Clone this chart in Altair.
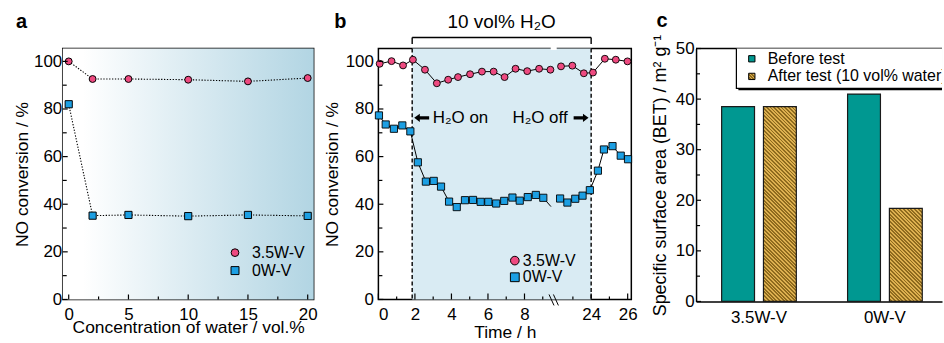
import math
import altair as alt
import pandas as pd

FONT = "Liberation Sans"
PINK = "#ee4a80"
BLUE = "#1c9fe3"
TEAL = "#009891"
SHADE = "#d9ebf3"
HATCH_LIGHT = "#ddb050"
HATCH_DARK = "#8f6b1e"

# ---------------- data ----------------
a_water = [0, 2, 5, 10, 15, 20]
a_conv_35w = [100.0, 92.6, 92.6, 92.3, 91.6, 93.0]
a_conv_0w = [82.0, 35.2, 35.5, 35.0, 35.5, 35.1]

b_time_35w = [0.07, 0.72, 1.35, 1.89, 2.55, 3.20, 3.82, 4.36, 5.02, 5.67, 6.31, 6.91, 7.51, 8.15, 8.80, 9.42,
              22.35, 22.97, 23.60, 24.10, 24.75, 25.35, 25.99]
b_conv_35w = [99.0, 100.1, 98.3, 100.7, 96.5, 90.8, 92.3, 93.4, 94.6, 95.7, 95.7, 93.4, 96.9, 95.9, 96.9, 96.5,
              97.9, 98.2, 95.0, 95.3, 101.1, 100.7, 100.0]
b_time_0w = [0.03, 0.40, 0.85, 1.31, 1.75, 2.16, 2.60, 3.03, 3.43, 3.87, 4.29, 4.74, 5.18, 5.60, 6.02, 6.45,
             6.89, 7.34, 7.74, 8.18, 8.62, 9.03,
             22.30, 22.70, 23.13, 23.53, 23.93, 24.37, 24.70, 25.17, 25.62, 26.02]
b_conv_0w = [77.3, 73.5, 71.7, 73.1, 70.6, 57.6, 49.5, 49.8, 47.4, 41.1, 38.8, 41.7, 41.8, 41.0, 41.0, 40.3,
             41.4, 42.8, 41.5, 43.0, 43.9, 42.7,
             42.4, 40.7, 42.3, 43.6, 45.9, 54.1, 63.0, 64.4, 60.4, 58.9]
b_tail_time = [9.03, 9.45]
b_tail_conv = [42.7, 39.0]
b_water_on = 1.85
b_water_off = 24.0

c_samples = ["3.5W-V", "0W-V"]
c_series = ["Before", "After"]
c_before = [38.5, 41.0]
c_after = [38.5, 18.4]

# tick values
a_xticks = [0, 2.5, 5, 7.5, 10, 12.5, 15, 17.5, 20]
a_xlabels = [0, 5, 10, 15, 20]
a_yticks = [0, 10, 20, 30, 40, 50, 60, 70, 80, 90, 100]
a_ylabels = [0, 20, 40, 60, 80, 100]
b_xticks_h = [0, 1, 2, 3, 4, 5, 6, 7, 8, 9, 23, 24, 25, 26]
b_xlabels_h = [0, 2, 4, 6, 8, 24, 26]
c_yticks = [0, 5, 10, 15, 20, 25, 30, 35, 40, 45, 50]
c_ylabels = [0, 10, 20, 30, 40, 50]

# ---------------- layout constants ----------------
W_A, H_A = 252, 252
W_B, H_B = 254, 252
W_C, H_C = 247, 254
SHIFT = 12.35      # hours removed by the axis break
BREAK_POS = 9.6    # plot position of the break


def b_pos(t):
    return t - SHIFT if t > 15 else t


one = pd.DataFrame({"k": [0]})


def tick_layers(values, majors, orient, scale, axis, plot_h, major_len, minor_len):
    layers = []
    for is_major, L in ((True, major_len), (False, minor_len)):
        vals = [v for v in values if (v in majors) == is_major]
        df = pd.DataFrame({"v": vals})
        base = alt.Chart(df).mark_rule(color="black", strokeWidth=1.2)
        if orient == "left":
            ch = base.encode(y=alt.Y("v:Q", scale=scale, axis=axis), x=alt.value(0), x2=alt.value(L))
        else:
            ch = base.encode(x=alt.X("v:Q", scale=scale, axis=axis), y=alt.value(plot_h), y2=alt.value(plot_h - L))
        layers.append(ch)
    return layers


def letter(ch, x, y):
    return alt.Chart(one).mark_text(text=ch, font=FONT, fontSize=20, fontWeight="bold", align="left",
                                    baseline="alphabetic", color="black").encode(x=alt.value(x), y=alt.value(y))


def legend_layers(items, x_mark, x_text):
    layers = []
    for label, shape, color, y, size in items:
        layers.append(alt.Chart(one).mark_point(shape=shape, filled=True, fill=color, stroke="black",
                                                strokeWidth=1, opacity=1, size=size)
                      .encode(x=alt.value(x_mark), y=alt.value(y)))
        layers.append(alt.Chart(one).mark_text(text=label, font=FONT, fontSize=16, align="left",
                                               baseline="middle", color="black")
                      .encode(x=alt.value(x_text), y=alt.value(y)))
    return layers


# ---------------- panel a ----------------
a_df = pd.DataFrame({"water": a_water * 2, "conv": a_conv_35w + a_conv_0w,
                     "sample": ["3.5W-V"] * len(a_water) + ["0W-V"] * len(a_water)})
ax_scale = alt.Scale(domain=[-0.5, 20.5], nice=False, zero=False)
ay_scale = alt.Scale(domain=[0, 105.4], nice=False)
ax_axis = alt.Axis(values=a_xlabels, title="Concentration of water / vol.%", labelPadding=7.5,
                   titleY=33.2, titleBaseline="alphabetic")
ay_axis = alt.Axis(values=a_ylabels, title="NO conversion / %", labelPadding=1,
                   titleX=-35.5, titleBaseline="alphabetic")

a_grad = {"gradient": "linear", "x1": 0, "y1": 0, "x2": 1, "y2": 0,
          "stops": [{"offset": 0, "color": "#ffffff"}, {"offset": 0.08, "color": "#ffffff"},
                    {"offset": 1, "color": "#b2d5e3"}]}
a_bg = alt.Chart(one).mark_rect(fill=a_grad).encode(
    x=alt.value(0), x2=alt.value(W_A), y=alt.value(0), y2=alt.value(H_A))

a_lines = alt.Chart(a_df).mark_line(color="black", strokeWidth=1.1, strokeDash=[1.3, 1.6]).encode(
    x=alt.X("water:Q", scale=ax_scale, axis=ax_axis),
    y=alt.Y("conv:Q", scale=ay_scale, axis=ay_axis),
    detail="sample:N")

a_pts = alt.Chart(a_df).mark_point(filled=True, stroke="black", strokeWidth=1, opacity=1).encode(
    x=alt.X("water:Q", scale=ax_scale, axis=ax_axis),
    y=alt.Y("conv:Q", scale=ay_scale, axis=ay_axis),
    shape=alt.Shape("sample:N", scale=alt.Scale(domain=["3.5W-V", "0W-V"], range=["circle", "square"]), legend=None),
    fill=alt.Fill("sample:N", scale=alt.Scale(domain=["3.5W-V", "0W-V"], range=[PINK, BLUE]), legend=None),
    size=alt.Size("sample:N", scale=alt.Scale(domain=["3.5W-V", "0W-V"], range=[48, 52]), legend=None))

a_layers = [a_bg, a_lines, a_pts]
a_layers += tick_layers(a_xticks, a_xlabels, "bottom", ax_scale, ax_axis, H_A, 5, 3)
a_layers += tick_layers(a_yticks, a_ylabels, "left", ay_scale, ay_axis, H_A, 5, 4)
a_layers += legend_layers([("3.5W-V", "circle", PINK, 205, 60), ("0W-V", "square", BLUE, 223, 64)], 173, 190)
a_layers.append(letter("a", -47, -21))
panel_a = alt.layer(*a_layers).properties(width=W_A, height=H_A)

# ---------------- panel b ----------------
b_df = pd.DataFrame({
    "pos": [b_pos(t) for t in b_time_35w] + [b_pos(t) for t in b_time_0w],
    "conv": b_conv_35w + b_conv_0w,
    "sample": ["3.5W-V"] * len(b_time_35w) + ["0W-V"] * len(b_time_0w),
    "seg": ["pre" if t < 15 else "post" for t in b_time_35w] + ["pre" if t < 15 else "post" for t in b_time_0w],
})
b_tail = pd.DataFrame({"pos": [b_pos(t) for t in b_tail_time], "conv": b_tail_conv})
bx_scale = alt.Scale(domain=[0, 13.85], nice=False, zero=False)
by_scale = alt.Scale(domain=[0, 105.4], nice=False)
p_on, p_off = b_pos(b_water_on), b_pos(b_water_off)
label_expr = "datum.value > 10 ? format(datum.value + %s, 'd') : format(datum.value, 'd')" % SHIFT
bx_axis = alt.Axis(values=[b_pos(t) for t in b_xlabels_h], labelExpr=label_expr, title="Time / h",
                   labelPadding=7.5, titleY=38.5, titleBaseline="alphabetic")
by_axis = alt.Axis(values=a_ylabels, title="NO conversion / %", labelPadding=5,
                   titleX=-41, titleBaseline="alphabetic")


def bx(d):
    return alt.X(datum=d, scale=bx_scale, axis=bx_axis)


def by(d):
    return alt.Y(datum=d, scale=by_scale, axis=by_axis)


b_shade = alt.Chart(one).mark_rect(fill=SHADE).encode(
    x=bx(p_on), x2=alt.X2(datum=p_off), y=alt.value(0), y2=alt.value(H_B))

b_dash = alt.Chart(pd.DataFrame({"pos": [p_on, p_off]})).mark_rule(
    color="black", strokeWidth=1.4, strokeDash=[4, 2.5]).encode(
    x=alt.X("pos:Q", scale=bx_scale, axis=bx_axis), y=alt.value(0), y2=alt.value(H_B))

b_lines = alt.Chart(b_df).mark_line(color="black", strokeWidth=1).encode(
    x=alt.X("pos:Q", scale=bx_scale, axis=bx_axis),
    y=alt.Y("conv:Q", scale=by_scale, axis=by_axis),
    detail=["sample:N", "seg:N"])
b_tail_line = alt.Chart(b_tail).mark_line(color="black", strokeWidth=1).encode(
    x=alt.X("pos:Q", scale=bx_scale, axis=bx_axis), y=alt.Y("conv:Q", scale=by_scale, axis=by_axis))

b_pts = alt.Chart(b_df).mark_point(filled=True, stroke="black", strokeWidth=0.9, opacity=1).encode(
    x=alt.X("pos:Q", scale=bx_scale, axis=bx_axis),
    y=alt.Y("conv:Q", scale=by_scale, axis=by_axis),
    shape=alt.Shape("sample:N", scale=alt.Scale(domain=["3.5W-V", "0W-V"], range=["circle", "square"]), legend=None),
    fill=alt.Fill("sample:N", scale=alt.Scale(domain=["3.5W-V", "0W-V"], range=[PINK, BLUE]), legend=None),
    size=alt.Size("sample:N", scale=alt.Scale(domain=["3.5W-V", "0W-V"], range=[30, 34]), legend=None))

b_br_h = alt.Chart(one).mark_rule(color="black", strokeWidth=1.4).encode(
    x=bx(p_on), x2=alt.X2(datum=p_off), y=by(110.0))
b_br_v = alt.Chart(pd.DataFrame({"pos": [p_on, p_off]})).mark_rule(color="black", strokeWidth=1.4).encode(
    x=alt.X("pos:Q", scale=bx_scale, axis=bx_axis), y=by(107.3), y2=alt.Y2(datum=110.0))
b_br_t = alt.Chart(one).mark_text(text="10 vol% H₂O", font=FONT, fontSize=19, baseline="middle",
                                  align="center", color="black").encode(
    x=bx((p_on + p_off) / 2), y=by(116.5))

ARROW_L = "M-1,0L-0.25,-0.55L-0.25,-0.22L1,-0.22L1,0.22L-0.25,0.22L-0.25,0.55Z"
ARROW_R = "M1,0L0.25,-0.55L0.25,-0.22L-1,-0.22L-1,0.22L0.25,0.22L0.25,0.55Z"
b_on_txt = alt.Chart(one).mark_text(text="H₂O on", font=FONT, fontSize=17, align="left",
                                    baseline="middle", color="black").encode(x=bx(2.98), y=by(76.3))
b_off_txt = alt.Chart(one).mark_text(text="H₂O off", font=FONT, fontSize=17, align="right",
                                     baseline="middle", color="black").encode(x=bx(10.36), y=by(76.3))
b_arr_l = alt.Chart(one).mark_point(shape=ARROW_L, filled=True, fill="black", opacity=1, size=225).encode(
    x=bx(2.37), y=by(76.3))
b_arr_r = alt.Chart(one).mark_point(shape=ARROW_R, filled=True, fill="black", opacity=1, size=225).encode(
    x=bx(11.1), y=by(76.3))

b_gap = alt.Chart(one).mark_rule(color="white", strokeWidth=3, xOffset=-3, x2Offset=3).encode(
    x=bx(BREAK_POS), x2=alt.X2(datum=BREAK_POS), y=alt.value(0))
b_brk1 = alt.Chart(one).mark_rule(color="black", strokeWidth=1, xOffset=-4.7, x2Offset=0.3).encode(
    x=bx(BREAK_POS), x2=alt.X2(datum=BREAK_POS), y=alt.value(H_B - 5), y2=alt.value(H_B + 6))
b_brk2 = alt.Chart(one).mark_rule(color="black", strokeWidth=1, xOffset=-0.3, x2Offset=4.7).encode(
    x=bx(BREAK_POS), x2=alt.X2(datum=BREAK_POS), y=alt.value(H_B - 5), y2=alt.value(H_B + 6))

b_layers = [b_shade, b_dash, b_lines, b_tail_line, b_pts, b_br_h, b_br_v, b_br_t,
            b_on_txt, b_off_txt, b_arr_l, b_arr_r, b_gap]
b_layers += tick_layers([b_pos(t) for t in b_xticks_h], [b_pos(t) for t in b_xlabels_h], "bottom",
                        bx_scale, bx_axis, H_B, 6, 3)
b_layers += tick_layers(a_yticks, a_ylabels, "left", by_scale, by_axis, H_B, 5, 4)
b_layers += [b_brk1, b_brk2]
b_layers += legend_layers([("3.5W-V", "circle", PINK, 213, 75), ("0W-V", "square", BLUE, 229.7, 78)], 137, 145)
b_layers.append(letter("b", -44.3, -21))
panel_b = alt.layer(*b_layers).properties(width=W_B, height=H_B)

# ---------------- panel c ----------------
c_df = pd.DataFrame({"sample": c_samples * 2, "series": ["Before"] * 2 + ["After"] * 2,
                     "value": c_before + c_after})
cx_scale = alt.Scale(domain=c_samples, paddingInner=0.407, paddingOuter=0.18, align=0.5645)
cy_scale = alt.Scale(domain=[0, 50], nice=False)
cxo_scale = alt.Scale(domain=c_series, paddingInner=0.214, paddingOuter=0)
cx_axis = alt.Axis(title=None, labelAngle=0, labelPadding=8, domain=True, domainColor="black", domainWidth=1.5)
cy_axis = alt.Axis(values=c_ylabels, title="Specific surface area (BET) / m² g⁻¹", labelPadding=2,
                   titleX=-31, titleBaseline="alphabetic", titleFontSize=18,
                   domain=True, domainColor="black", domainWidth=1.5)


def stripe_gradient(w, h, period=2.6):
    r = w / h
    bb = (1 + r) / (1 + r * r)
    aa = r * bb
    D = (w + h) / math.sqrt(2)
    n = max(1, int(round(D / period)))
    stops = []
    for i in range(n):
        o0, om, o1 = i / n, (i + 0.5) / n, (i + 1) / n
        stops += [{"offset": o0, "color": HATCH_LIGHT}, {"offset": om, "color": HATCH_LIGHT},
                  {"offset": om, "color": HATCH_DARK}, {"offset": o1, "color": HATCH_DARK}]
    return {"gradient": "linear", "x1": 0, "y1": 1, "x2": aa, "y2": 1 - bb, "stops": stops}


BAR_W = 33
c_layers = []
c_layers.append(alt.Chart(one).mark_rule(color="black", strokeWidth=1.5).encode(
    x=alt.value(0), x2=alt.value(W_C), y=alt.value(0)))
c_layers.append(alt.Chart(c_df).transform_filter(alt.datum.series == "Before").mark_bar(
    fill=TEAL, stroke="#1a1a1a", strokeWidth=1.2).encode(
    x=alt.X("sample:N", scale=cx_scale, sort=c_samples, axis=cx_axis),
    xOffset=alt.XOffset("series:N", scale=cxo_scale, sort=c_series),
    y=alt.Y("value:Q", scale=cy_scale, axis=cy_axis)))
for s, v in zip(c_samples, c_after):
    grad = stripe_gradient(BAR_W, v / 50 * H_C)
    c_layers.append(alt.Chart(c_df).transform_filter(
        (alt.datum.series == "After") & (alt.datum.sample == s)).mark_bar(
        fill=grad, stroke="#1a1a1a", strokeWidth=1.2).encode(
        x=alt.X("sample:N", scale=cx_scale, sort=c_samples, axis=cx_axis),
        xOffset=alt.XOffset("series:N", scale=cxo_scale, sort=c_series),
        y=alt.Y("value:Q", scale=cy_scale, axis=cy_axis)))
c_layers += tick_layers(c_yticks, c_ylabels, "left", cy_scale, cy_axis, H_C, 5, 4)
c_layers.append(alt.Chart(one).mark_rect(fill="black", clip=True).encode(
    x=alt.value(42.5), x2=alt.value(335), y=alt.value(-1.5), y2=alt.value(42)))
c_layers.append(alt.Chart(one).mark_rect(fill="white", stroke="black", strokeWidth=1.2, clip=True).encode(
    x=alt.value(40.5), x2=alt.value(333), y=alt.value(-3.5), y2=alt.value(40)))
c_layers.append(alt.Chart(one).mark_point(shape="square", filled=True, fill=TEAL, stroke="black",
                                          strokeWidth=1, opacity=1, size=40).encode(
    x=alt.value(56), y=alt.value(10.3)))
c_layers.append(alt.Chart(one).mark_point(shape="square", filled=True, fill=stripe_gradient(6, 6, 2.0),
                                          stroke="black", strokeWidth=1, opacity=1, size=40).encode(
    x=alt.value(56), y=alt.value(28)))
for txt, yy in (("Before test", 10.3), ("After test (10 vol% water)", 28)):
    c_layers.append(alt.Chart(one).mark_text(text=txt, font=FONT, fontSize=16, align="left",
                                             baseline="middle", color="black", clip=True).encode(
        x=alt.value(72), y=alt.value(yy)))
c_layers.append(letter("c", -39.7, -22))
panel_c = alt.layer(*c_layers).properties(width=W_C, height=H_C,
                                         view=alt.ViewBackground(stroke="transparent"))

chart = alt.hconcat(panel_a, panel_b, panel_c, spacing=65, bounds="flush").properties(
    padding={"left": 12, "top": 9, "right": 0, "bottom": 0}, background="white"
).configure(font=FONT).configure_view(stroke="black", strokeWidth=1.5).configure_axis(
    grid=False, ticks=False, domain=False, labelFont=FONT, titleFont=FONT, labelFontSize=17,
    titleFontSize=17.5, titleFontWeight="normal", labelColor="black", titleColor="black")

chart.save("out.html", embed_options={"renderer": "svg", "actions": False})
